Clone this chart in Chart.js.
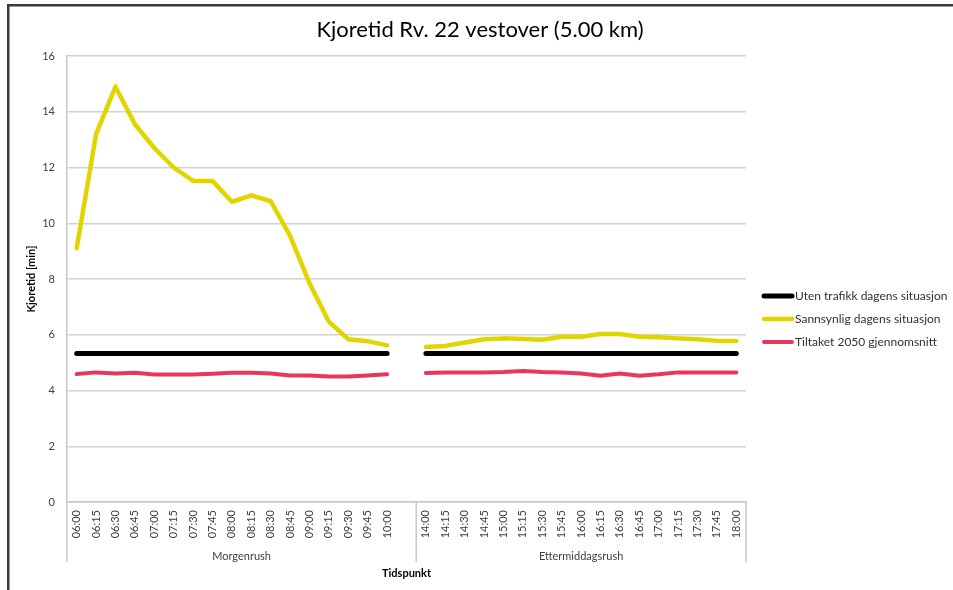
<!DOCTYPE html>
<html>
<head>
<meta charset="utf-8">
<script src="https://cdn.jsdelivr.net/npm/chart.js@4.4.1/dist/chart.umd.min.js"></script>
<style>
  html, body { margin: 0; padding: 0; background: #fff; }
  #wrap { position: relative; width: 953px; height: 590px; }
</style>
</head>
<body>
<div id="wrap"><canvas id="chart"></canvas></div>
<script>
// categories
const morningTimes = ['06:00','06:15','06:30','06:45','07:00','07:15','07:30','07:45','08:00','08:15','08:30','08:45','09:00','09:15','09:30','09:45','10:00'];
const afternoonTimes = ['14:00','14:15','14:30','14:45','15:00','15:15','15:30','15:45','16:00','16:15','16:30','16:45','17:00','17:15','17:30','17:45','18:00'];
const groups = ['Morgenrush', 'Ettermiddagsrush'];
const chartTitle = 'Kjoretid Rv. 22 vestover (5.00 km)';

// series (minutes)
const utenMorning = [5.33,5.33,5.33,5.33,5.33,5.33,5.33,5.33,5.33,5.33,5.33,5.33,5.33,5.33,5.33,5.33,5.33];
const utenAfternoon = [5.33,5.33,5.33,5.33,5.33,5.33,5.33,5.33,5.33,5.33,5.33,5.33,5.33,5.33,5.33,5.33,5.33];
const sannsynligMorning = [9.1,13.2,14.9,13.55,12.7,12.0,11.52,11.52,10.77,11.0,10.79,9.55,7.85,6.47,5.84,5.77,5.62];
const sannsynligAfternoon = [5.56,5.6,5.72,5.84,5.87,5.85,5.82,5.93,5.93,6.03,6.03,5.93,5.91,5.87,5.84,5.78,5.78];
const tiltakMorning = [4.59,4.65,4.61,4.64,4.57,4.57,4.57,4.6,4.64,4.64,4.61,4.54,4.54,4.5,4.5,4.54,4.58];
const tiltakAfternoon = [4.63,4.65,4.65,4.65,4.66,4.7,4.66,4.65,4.61,4.53,4.61,4.53,4.58,4.65,4.65,4.65,4.65];

// one empty category separates the two rush periods
const labels = [...morningTimes, '', ...afternoonTimes];
const join = (a, b) => [...a, null, ...b];

const FONT = 'Lato, "Open Sans", sans-serif';

// outer frame + title (title centred over the whole canvas, not the plot)
const frame = {
    id: 'frame',
    beforeDraw(chart) {
        const c = chart.ctx;
        c.save();
        c.fillStyle = '#fff';
        c.fillRect(0, 0, chart.width, chart.height);
        c.fillStyle = '#3a3a3a';
        c.fillRect(7, 4, chart.width - 7, 2.5);
        c.fillRect(7, 4, 2.5, chart.height - 4);
        c.fillStyle = '#000';
        c.font = '22px ' + FONT;
        c.textAlign = 'center';
        c.textBaseline = 'middle';
        c.fillText(chartTitle, 480, 30);
        c.restore();
    }
};

const groupAxis = {
    id: 'groupAxis',
    afterDraw(chart) {
        const c = chart.ctx;
        const area = chart.chartArea;
        const w = (area.right - area.left) / labels.length;
        const bounds = [0, morningTimes.length + 1, labels.length];
        c.save();
        c.strokeStyle = '#c8c8c8';
        c.lineWidth = 1.5;
        bounds.forEach(i => {
            const px = area.left + i * w;
            c.beginPath();
            c.moveTo(px, area.bottom);
            c.lineTo(px, 562);
            c.stroke();
        });
        c.fillStyle = '#404040';
        c.font = '11px ' + FONT;
        c.textAlign = 'center';
        c.textBaseline = 'middle';
        groups.forEach((g, k) => {
            const mid = area.left + (bounds[k] + bounds[k + 1]) / 2 * w;
            c.fillText(g, mid, 556);
        });
        c.restore();
    }
};

const sideLegend = {
    id: 'sideLegend',
    afterDraw(chart) {
        const c = chart.ctx;
        c.save();
        c.font = '12px ' + FONT;
        c.textBaseline = 'middle';
        c.textAlign = 'left';
        chart.data.datasets.forEach((ds, i) => {
            const y = 296 + i * 23;
            c.strokeStyle = ds.borderColor;
            c.lineWidth = ds.borderWidth;
            c.lineCap = 'round';
            c.beginPath();
            c.moveTo(764, y);
            c.lineTo(792, y);
            c.stroke();
            c.fillStyle = '#303030';
            c.fillText(ds.label, 795, y);
        });
        c.restore();
    }
};

new Chart(document.getElementById('chart'), {
    type: 'line',
    data: {
        labels: labels,
        datasets: [
            { label: 'Uten trafikk dagens situasjon', data: join(utenMorning, utenAfternoon), borderColor: '#000000', borderWidth: 5 },
            { label: 'Sannsynlig dagens situasjon', data: join(sannsynligMorning, sannsynligAfternoon), borderColor: '#e1d500', borderWidth: 4.5 },
            { label: 'Tiltaket 2050 gjennomsnitt', data: join(tiltakMorning, tiltakAfternoon), borderColor: '#e8375c', borderWidth: 4 }
        ]
    },
    options: {
        responsive: true,
        maintainAspectRatio: false,
        animation: false,
        spanGaps: false,
        elements: {
            point: { radius: 0, hoverRadius: 0 },
            line: { tension: 0, borderCapStyle: 'round', borderJoinStyle: 'round' }
        },
        layout: { padding: { left: 0, right: 207, top: 56, bottom: 0 } },
        plugins: {
            legend: { display: false },
            tooltip: { enabled: false },
            title: { display: false }
        },
        scales: {
            x: {
                offset: true,
                grid: { display: false, drawTicks: false },
                border: { color: '#c8c8c8', width: 1.5 },
                ticks: {
                    autoSkip: false, minRotation: 90, maxRotation: 90, padding: 8,
                    color: '#404040', font: { family: FONT, size: 11 }
                },
                title: {
                    display: true, text: 'Tidspunkt', color: '#000',
                    font: { family: FONT, size: 11, weight: 'bold' },
                    padding: { top: 0, bottom: 10 }
                },
                afterFit(s) { s.height = 88; }
            },
            y: {
                min: 0, max: 16,
                grid: { color: '#d2d2d2', lineWidth: 1.5, drawTicks: false },
                border: { color: '#c8c8c8', width: 1.5 },
                ticks: {
                    stepSize: 2, padding: 12,
                    color: '#404040', font: { family: FONT, size: 11 }
                },
                title: {
                    display: true, text: 'Kjoretid [min]', color: '#000',
                    font: { family: FONT, size: 11, weight: 'bold' },
                    padding: { top: 25, bottom: 0 }
                },
                afterFit(s) { s.width = 67; }
            }
        }
    },
    plugins: [frame, groupAxis, sideLegend]
});
</script>
</body>
</html>
